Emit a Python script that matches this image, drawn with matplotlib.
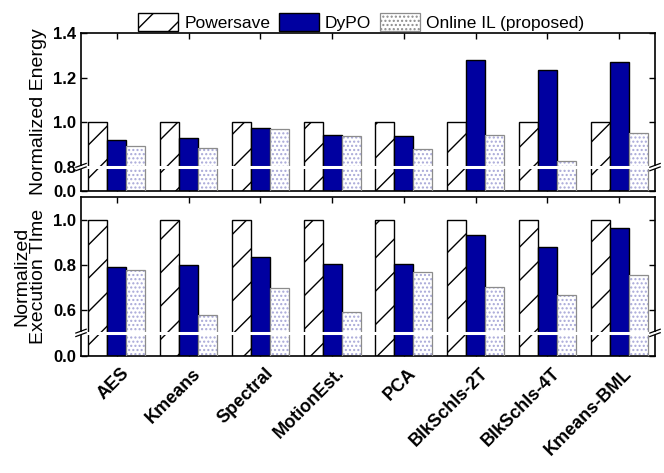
import numpy as np
import matplotlib.pyplot as plt
from matplotlib.patches import Patch
from matplotlib.transforms import ScaledTranslation

plt.rcParams["font.family"] = ["Liberation Sans", "DejaVu Sans"]
plt.rcParams["hatch.linewidth"] = 1.0

benchmarks = ["AES", "Kmeans", "Spectral", "MotionEst.", "PCA",
              "BlkSchls-2T", "BlkSchls-4T", "Kmeans-BML"]

energy_powersave = [1.0, 1.0, 1.0, 1.0, 1.0, 1.0, 1.0, 1.0]
energy_dypo = [0.922, 0.931, 0.976, 0.944, 0.940, 1.279, 1.233, 1.270]
energy_online = [0.895, 0.886, 0.970, 0.940, 0.879, 0.944, 0.828, 0.951]

time_powersave = [1.0, 1.0, 1.0, 1.0, 1.0, 1.0, 1.0, 1.0]
time_dypo = [0.791, 0.800, 0.834, 0.806, 0.803, 0.932, 0.878, 0.963]
time_online = [0.776, 0.580, 0.697, 0.593, 0.767, 0.703, 0.667, 0.754]

energy_ticks = [0.0, 0.8, 1.0, 1.2, 1.4]
time_ticks = [0.0, 0.6, 0.8, 1.0]

DYPO_BLUE = "#0000a0"
DOT_COLOR = "#a8a8d8"
WIDTH = 0.265


def broken_scale(brk, low):
    """Piecewise linear y scale: [0, brk] squeezed into `low` units."""
    def fwd(y):
        y = np.asarray(y, dtype=float)
        return np.where(y >= brk, y - brk + low, y * low / brk)

    def inv(v):
        v = np.asarray(v, dtype=float)
        return np.where(v >= low, v - low + brk, v * brk / low)

    return fwd, inv


def draw_break(ax, brk, low, top):
    yb = low / (top - brk + low)
    ax.plot([-0.012, 1.012], [yb, yb], transform=ax.transAxes, color="white",
            lw=2.2, clip_on=False, zorder=5, solid_capstyle="butt")
    for x0 in (0.0, 1.0):
        for dy in (-0.011, 0.011):
            ax.plot([x0 - 0.009, x0 + 0.009], [yb + dy - 0.012, yb + dy + 0.012],
                    transform=ax.transAxes, color="black", lw=0.9,
                    clip_on=False, zorder=6)


def plot_panel(ax, powersave, dypo, online, brk, low, top, ticks):
    x = np.arange(len(benchmarks))
    fwd, inv = broken_scale(brk, low)
    ax.set_yscale("function", functions=(fwd, inv))

    ax.bar(x - WIDTH, powersave, WIDTH, color="white", edgecolor="black",
           hatch="/", lw=1.0, zorder=2)
    ax.bar(x, dypo, WIDTH, color=DYPO_BLUE, edgecolor="black", lw=1.0,
           zorder=2)
    ax.bar(x + WIDTH, online, WIDTH, color="white", edgecolor=DOT_COLOR,
           hatch="....", lw=0, zorder=2)
    ax.bar(x + WIDTH, online, WIDTH, color="none", edgecolor="#8c8c8c",
           lw=0.9, zorder=3)

    ax.set_xlim(-0.5, len(benchmarks) - 0.5)
    ax.set_ylim(0, top)
    ax.set_yticks(ticks)
    ax.set_yticklabels([f"{t:.1f}" for t in ticks], fontweight="bold",
                       fontsize=12)
    ax.set_xticks(x)
    ax.tick_params(direction="in", length=4, width=1, top=True, right=True)
    for spine in ax.spines.values():
        spine.set_linewidth(1.2)
    draw_break(ax, brk, low, top)


fig = plt.figure(figsize=(6.64, 4.73), dpi=100)
ax1 = fig.add_axes([0.122, 0.5962, 0.8645, 0.334])
ax2 = fig.add_axes([0.122, 0.2474, 0.8645, 0.336])

plot_panel(ax1, energy_powersave, energy_dypo, energy_online,
           0.8, 0.107, 1.4, energy_ticks)
plot_panel(ax2, time_powersave, time_dypo, time_online,
           0.5, 0.102, 1.1, time_ticks)

ax1.set_xticklabels([])
ax2.set_xticklabels(benchmarks, rotation=45, ha="right", va="center",
                    rotation_mode="anchor", fontweight="bold", fontsize=13)
offset = ScaledTranslation(10 / 100, -10 / 100, fig.dpi_scale_trans)
for lbl in ax2.get_xticklabels():
    lbl.set_transform(lbl.get_transform() + offset)

ax1.set_ylabel("Normalized Energy", fontsize=14)
ax2.set_ylabel("Normalized\nExecution TIme", fontsize=14, linespacing=1.0)
ax1.yaxis.set_label_coords(-0.059, 0.5)
ax2.yaxis.set_label_coords(-0.059, 0.5)

handles = [
    Patch(facecolor="white", edgecolor="black", hatch="/", lw=1.0),
    Patch(facecolor=DYPO_BLUE, edgecolor="black", lw=1.0),
    Patch(facecolor="white", edgecolor="#8c8c8c", hatch="....", lw=0.9),
]
fig.legend(handles, ["Powersave", "DyPO", "Online IL (proposed)"],
           loc="upper center", bbox_to_anchor=(0.544, 1.005), ncol=3,
           frameon=False, fontsize=12.5, handlelength=2.3, handleheight=1.2,
           handletextpad=0.35, columnspacing=0.5)

fig.savefig("out.png", dpi=100)
